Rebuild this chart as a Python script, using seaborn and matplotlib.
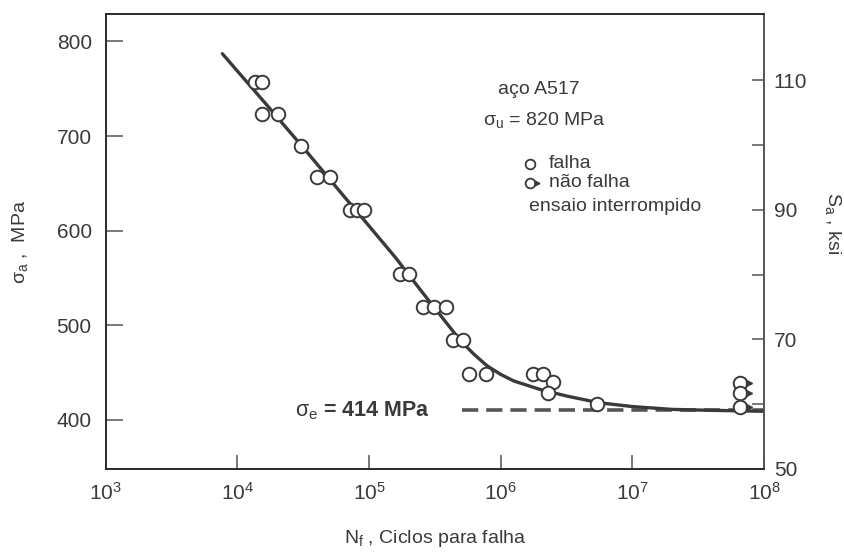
import numpy as np
import pandas as pd
import seaborn as sns
import matplotlib.pyplot as plt
from matplotlib.transforms import ScaledTranslation

# failure points (cycles, MPa)
fail_N = [1.36e4, 1.53e4, 1.53e4, 2.02e4, 3.04e4, 4.05e4, 5.05e4, 7.16e4, 8.05e4, 9.14e4,
          1.72e5, 2.02e5, 2.58e5, 3.13e5, 3.82e5, 4.36e5, 5.19e5, 5.77e5, 7.73e5,
          1.75e6, 2.09e6, 2.49e6, 2.28e6, 5.37e6]
fail_S = [757, 757, 723, 723, 689, 657, 657, 622, 622, 622,
          554, 554, 519, 519, 519, 484, 484, 448, 448,
          448, 448, 440, 428, 417]

# run-outs (test stopped)
runout_N = [6.56e7, 6.56e7, 6.56e7]
runout_S = [439, 428, 414]

# fitted S-N curve
curve_N = [7.7e3, 1.6e4, 3.2e4, 6.3e4, 1.0e5, 1.6e5, 2.5e5, 4.0e5, 5.0e5, 6.3e5, 7.9e5,
           1.0e6, 1.26e6, 2.0e6, 3.2e6, 5.6e6, 1.0e7, 2.0e7, 4.0e7, 1.0e8]
curve_S = [787, 736, 687, 638, 605, 571, 536, 500, 483, 469, 457,
           448, 441, 432, 425, 418, 414, 411, 410, 409]

sigma_e = 410
dash_N = [5.1e5, 1.0e8]

xlim = (1e3, 1e8)
ylim = (348, 829)
ksi_ticks = [50, 60, 70, 80, 90, 100, 110]
ksi_labels = ["50", "", "70", "", "90", "", "110"]

sns.set_theme(style="white")
plt.rcParams['font.family'] = ['Liberation Sans', 'DejaVu Sans']
plt.rcParams['mathtext.fontset'] = 'custom'
plt.rcParams['mathtext.rm'] = 'Liberation Sans'
plt.rcParams['mathtext.it'] = 'Liberation Sans'
plt.rcParams['mathtext.bf'] = 'Liberation Sans:bold'

ink = '#3a3a3a'
fig = plt.figure(figsize=(8.44, 5.52), dpi=100)
ax = fig.add_axes([0.1252, 0.1504, 0.78, 0.8242])

curve = pd.DataFrame({'N': curve_N, 'S': curve_S})
sns.lineplot(data=curve, x='N', y='S', ax=ax, color=ink, lw=2.4, zorder=2)
ax.plot(dash_N, [sigma_e, sigma_e], ls=(0, (4.5, 2.2)), color='#555555', lw=2.6, zorder=1)

pts = pd.DataFrame({'N': fail_N + runout_N, 'S': fail_S + runout_S})
sns.scatterplot(data=pts, x='N', y='S', ax=ax, marker='o', s=95, facecolor='white',
                edgecolor=ink, linewidth=1.4, zorder=3)

# little arrows for the run-outs
shift = ScaledTranslation(9 / 100, 0, fig.dpi_scale_trans)
ax.plot(runout_N, runout_S, ls='none', marker='>', ms=4.5, color=ink,
        transform=ax.transData + shift, zorder=3, clip_on=False)

ax.set_xscale('log')
ax.set_xlim(*xlim)
ax.set_ylim(*ylim)
ax.set_xticks([1e3, 1e4, 1e5, 1e6, 1e7, 1e8])
ax.set_yticks([400, 500, 600, 700, 800])
ax.minorticks_off()
ax.tick_params(axis='x', direction='in', length=10, width=1.1, color='#555555',
               labelsize=15, labelcolor=ink, pad=9, bottom=True)
ax.tick_params(axis='y', direction='in', length=12, width=1.1, color='#555555',
               labelsize=15, labelcolor=ink, pad=10, left=True)
for sp in ax.spines.values():
    sp.set_color('#555555')
    sp.set_linewidth(1.2)

ax.set_xlabel('N$_{\\mathrm{f}}$ , Ciclos para falha', fontsize=14, color=ink, labelpad=18)
ax.set_ylabel('')
ax.text(-0.13, 0.5, '$\\sigma_{\\mathrm{a}}$ ,  MPa', transform=ax.transAxes, rotation=90,
        ha='center', va='center', fontsize=14, color=ink)

ax2 = ax.twinx()
ax2.set_ylim(ylim[0] / 6.895, ylim[1] / 6.895)
ax2.set_yticks(ksi_ticks)
ax2.set_yticklabels(ksi_labels)
ax2.tick_params(axis='y', direction='in', length=9, width=1.1, color='#555555',
                labelsize=15, labelcolor=ink, pad=7, right=True)
ax2.spines['right'].set_color('#555555')
ax2.spines['right'].set_linewidth(1.2)
ax2.grid(False)
ax2.text(1.105, 0.54, 'S$_{\\mathrm{a}}$ , ksi', transform=ax.transAxes, rotation=-90,
         ha='center', va='center', fontsize=14, color=ink)

# annotations
ax.text(0.596, 0.833, 'aço A517', transform=ax.transAxes, fontsize=14, color=ink, va='center')
ax.text(0.573, 0.767, '$\\sigma_{\\mathrm{u}}$ = 820 MPa', transform=ax.transAxes,
        fontsize=14, color=ink, va='center')
ax.plot([0.6445], [0.670], transform=ax.transAxes, marker='o', ms=7, mfc='white',
        mec=ink, mew=1.3, ls='none')
ax.plot([0.6445], [0.6286], transform=ax.transAxes, marker='o', ms=7, mfc='white',
        mec=ink, mew=1.3, ls='none')
ax.plot([0.6545], [0.6286], transform=ax.transAxes, marker='>', ms=3.5, color=ink, ls='none')
ax.text(0.6734, 0.672, 'falha', transform=ax.transAxes, fontsize=14, color=ink, va='center')
ax.text(0.6734, 0.630, 'não falha', transform=ax.transAxes, fontsize=14, color=ink, va='center')
ax.text(0.643, 0.578, 'ensaio interrompido', transform=ax.transAxes, fontsize=14, color=ink,
        va='center')
ax.text(0.2874, 0.128, '$\\sigma_{\\mathrm{e}}$ = 414 MPa', transform=ax.transAxes,
        fontsize=15.5, fontweight='bold', color=ink, va='center')

fig.savefig('out.png', dpi=100)
